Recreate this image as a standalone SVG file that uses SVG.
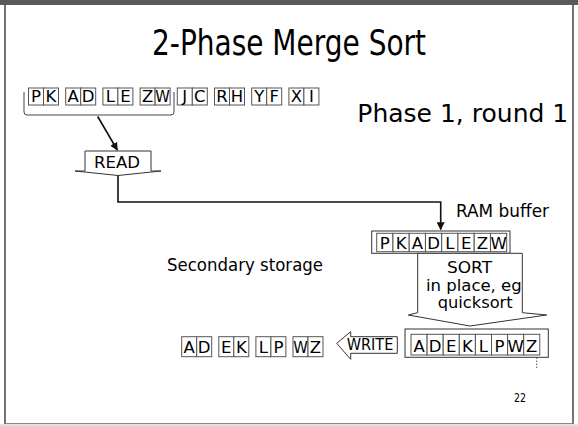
<svg xmlns="http://www.w3.org/2000/svg" width="578" height="426" viewBox="0 0 578 426">
<defs>
<style>
text{font-family:"DejaVu Sans","Verdana",sans-serif;fill:#000}
.cell{fill:#fff;stroke:#555;stroke-width:1}
.lt{font-size:16.5px;text-anchor:middle}
.buf{fill:#fff;stroke:#333;stroke-width:1}
.shape{fill:#fff;stroke:#333;stroke-width:1}
.line{fill:none;stroke:#111;stroke-width:1.6}
</style>
<marker id="ah" viewBox="0 0 10 10" refX="9" refY="5" markerWidth="5" markerHeight="5" orient="auto" markerUnits="strokeWidth">
<path d="M0,0 L10,5 L0,10 z" fill="#111"/>
</marker>
</defs>
<rect x="0" y="0" width="578" height="426" fill="#fff"/>
<g id="frame">
<rect x="0" y="0" width="578" height="5" fill="#5a5a5c"/>
<line x1="5" y1="5" x2="5" y2="424" stroke="#444" stroke-width="1.5"/>
<line x1="573" y1="5" x2="573" y2="424" stroke="#444" stroke-width="1.5"/>
<line x1="5" y1="423.5" x2="573" y2="423.5" stroke="#888" stroke-width="1"/>
<rect x="0" y="424.2" width="578" height="2" fill="#ddd"/>
</g>
<g id="title">
<text x="152" y="54.6" font-size="35" textLength="274" lengthAdjust="spacingAndGlyphs">2-Phase Merge Sort</text>
</g>
<g id="phase-label">
<text x="357.3" y="121.7" font-size="24" textLength="211" lengthAdjust="spacingAndGlyphs">Phase 1, round 1</text>
</g>
<g id="input-records">
<rect class="cell" x="28.5" y="88" width="15" height="17"/><rect class="cell" x="43.5" y="88" width="15" height="17"/>
<rect class="cell" x="65.7" y="88" width="15" height="17"/><rect class="cell" x="80.7" y="88" width="15" height="17"/>
<rect class="cell" x="102.9" y="88" width="15" height="17"/><rect class="cell" x="117.9" y="88" width="15" height="17"/>
<rect class="cell" x="140.1" y="88" width="15" height="17"/><rect class="cell" x="155.1" y="88" width="15" height="17"/>
<rect class="cell" x="177.3" y="88" width="15" height="17"/><rect class="cell" x="192.3" y="88" width="15" height="17"/>
<rect class="cell" x="214.5" y="88" width="15" height="17"/><rect class="cell" x="229.5" y="88" width="15" height="17"/>
<rect class="cell" x="251.7" y="88" width="15" height="17"/><rect class="cell" x="266.7" y="88" width="15" height="17"/>
<rect class="cell" x="288.9" y="88" width="15" height="17"/><rect class="cell" x="303.9" y="88" width="15" height="17"/>
<text class="lt" x="36" y="102.3">P</text><text class="lt" x="51" y="102.3">K</text>
<text class="lt" x="73.2" y="102.3">A</text><text class="lt" x="88.2" y="102.3">D</text>
<text class="lt" x="110.4" y="102.3">L</text><text class="lt" x="125.4" y="102.3">E</text>
<text class="lt" x="147.6" y="102.3">Z</text><text class="lt" x="162.6" y="102.3" textLength="14.6" lengthAdjust="spacingAndGlyphs">W</text>
<text class="lt" x="184.8" y="102.3">J</text><text class="lt" x="199.8" y="102.3">C</text>
<text class="lt" x="222" y="102.3">R</text><text class="lt" x="237" y="102.3">H</text>
<text class="lt" x="259.2" y="102.3">Y</text><text class="lt" x="274.2" y="102.3">F</text>
<text class="lt" x="296.4" y="102.3">X</text><text class="lt" x="311.4" y="102.3">I</text>
<path d="M24,92 L24,112 Q24,115 27,115 L171,115 Q174,115 174,112 L174,92" fill="none" stroke="#444" stroke-width="1"/>
</g>
<g id="read-arrow">
<path class="shape" d="M85,151 L151,151 L151,171 L161,171 L118,175.5 L75,171 L85,171 Z"/>
<text x="94" y="168" font-size="16.5" textLength="46" lengthAdjust="spacingAndGlyphs">READ</text>
</g>
<g id="ram-buffer">
<rect class="buf" x="371.7" y="231" width="138.3" height="22.3"/>
<rect class="cell" x="376.7" y="233.3" width="16.25" height="18.4"/><rect class="cell" x="392.95" y="233.3" width="16.25" height="18.4"/>
<rect class="cell" x="409.2" y="233.3" width="16.25" height="18.4"/><rect class="cell" x="425.45" y="233.3" width="16.25" height="18.4"/>
<rect class="cell" x="441.7" y="233.3" width="16.25" height="18.4"/><rect class="cell" x="457.95" y="233.3" width="16.25" height="18.4"/>
<rect class="cell" x="474.2" y="233.3" width="16.25" height="18.4"/><rect class="cell" x="490.45" y="233.3" width="16.25" height="18.4"/>
<text class="lt" x="384.8" y="248.5">P</text><text class="lt" x="401.1" y="248.5">K</text>
<text class="lt" x="417.3" y="248.5">A</text><text class="lt" x="433.6" y="248.5">D</text>
<text class="lt" x="449.8" y="248.5">L</text><text class="lt" x="466.1" y="248.5">E</text>
<text class="lt" x="482.3" y="248.5">Z</text><text class="lt" x="498.6" y="248.5">W</text>
<text x="456" y="217" font-size="17" textLength="93" lengthAdjust="spacingAndGlyphs">RAM buffer</text>
</g>
<g id="secondary-label">
<text x="167" y="271" font-size="17" textLength="156" lengthAdjust="spacingAndGlyphs">Secondary storage</text>
</g>
<g id="sort-arrow">
<path class="shape" d="M417.7,253.3 L522.3,253.3 L522.3,312.7 L546.7,315 L470,326 L408.3,315 L417.7,312.7 Z"/>
<text x="447" y="273.3" font-size="16.5" textLength="45" lengthAdjust="spacingAndGlyphs">SORT</text>
<text x="426" y="290.8" font-size="16" textLength="95.7" lengthAdjust="spacingAndGlyphs">in place, eg</text>
<text x="437.7" y="308.3" font-size="16" textLength="75" lengthAdjust="spacingAndGlyphs">quicksort</text>
</g>
<g id="output-buffer">
<rect class="buf" x="405" y="329" width="143.3" height="28.3"/>
<rect class="cell" x="411" y="334.3" width="16.1" height="20.7"/><rect class="cell" x="427.1" y="334.3" width="16.1" height="20.7"/>
<rect class="cell" x="443.2" y="334.3" width="16.1" height="20.7"/><rect class="cell" x="459.3" y="334.3" width="16.1" height="20.7"/>
<rect class="cell" x="475.4" y="334.3" width="16.1" height="20.7"/><rect class="cell" x="491.5" y="334.3" width="16.1" height="20.7"/>
<rect class="cell" x="507.6" y="334.3" width="16.1" height="20.7"/><rect class="cell" x="523.7" y="334.3" width="16.1" height="20.7"/>
<text class="lt" x="419.05" y="351.5">A</text><text class="lt" x="435.15" y="351.5">D</text>
<text class="lt" x="451.25" y="351.5">E</text><text class="lt" x="467.35" y="351.5">K</text>
<text class="lt" x="483.45" y="351.5">L</text><text class="lt" x="499.55" y="351.5">P</text>
<text class="lt" x="515.65" y="351.5">W</text><text class="lt" x="531.75" y="351.5">Z</text>
<line x1="536.7" y1="357.5" x2="536.7" y2="368" stroke="#555" stroke-width="1" stroke-dasharray="1.5,1.5"/>
</g>
<g id="write-arrow">
<path class="shape" d="M397.3,336.7 L397.3,353.3 L350.7,353.3 L350.7,359.3 L336.7,343.3 L350.7,331.7 L350.7,336.7 Z"/>
<text x="346.7" y="350" font-size="15.5" textLength="46.6" lengthAdjust="spacingAndGlyphs">WRITE</text>
</g>
<g id="output-records">
<rect class="cell" x="181.7" y="336.7" width="15" height="20"/><rect class="cell" x="196.7" y="336.7" width="15" height="20"/>
<rect class="cell" x="218.8" y="336.7" width="15" height="20"/><rect class="cell" x="233.8" y="336.7" width="15" height="20"/>
<rect class="cell" x="255.9" y="336.7" width="15" height="20"/><rect class="cell" x="270.9" y="336.7" width="15" height="20"/>
<rect class="cell" x="293" y="336.7" width="15" height="20"/><rect class="cell" x="308" y="336.7" width="15" height="20"/>
<text class="lt" x="189.2" y="353">A</text><text class="lt" x="204.2" y="353">D</text>
<text class="lt" x="226.3" y="353">E</text><text class="lt" x="241.3" y="353">K</text>
<text class="lt" x="263.4" y="353">L</text><text class="lt" x="278.4" y="353">P</text>
<text class="lt" x="300.5" y="353" textLength="14.6" lengthAdjust="spacingAndGlyphs">W</text><text class="lt" x="315.5" y="353">Z</text>
</g>
<g id="connectors">
<line class="line" x1="97.7" y1="116.5" x2="117.3" y2="150" marker-end="url(#ah)"/>
<path class="line" d="M118,175.5 L118,202 L440.7,202 L440.7,229.5" marker-end="url(#ah)"/>
</g>
<g id="page-number">
<text x="514" y="401.7" font-size="11.5" textLength="12" lengthAdjust="spacingAndGlyphs">22</text>
</g>
</svg>
